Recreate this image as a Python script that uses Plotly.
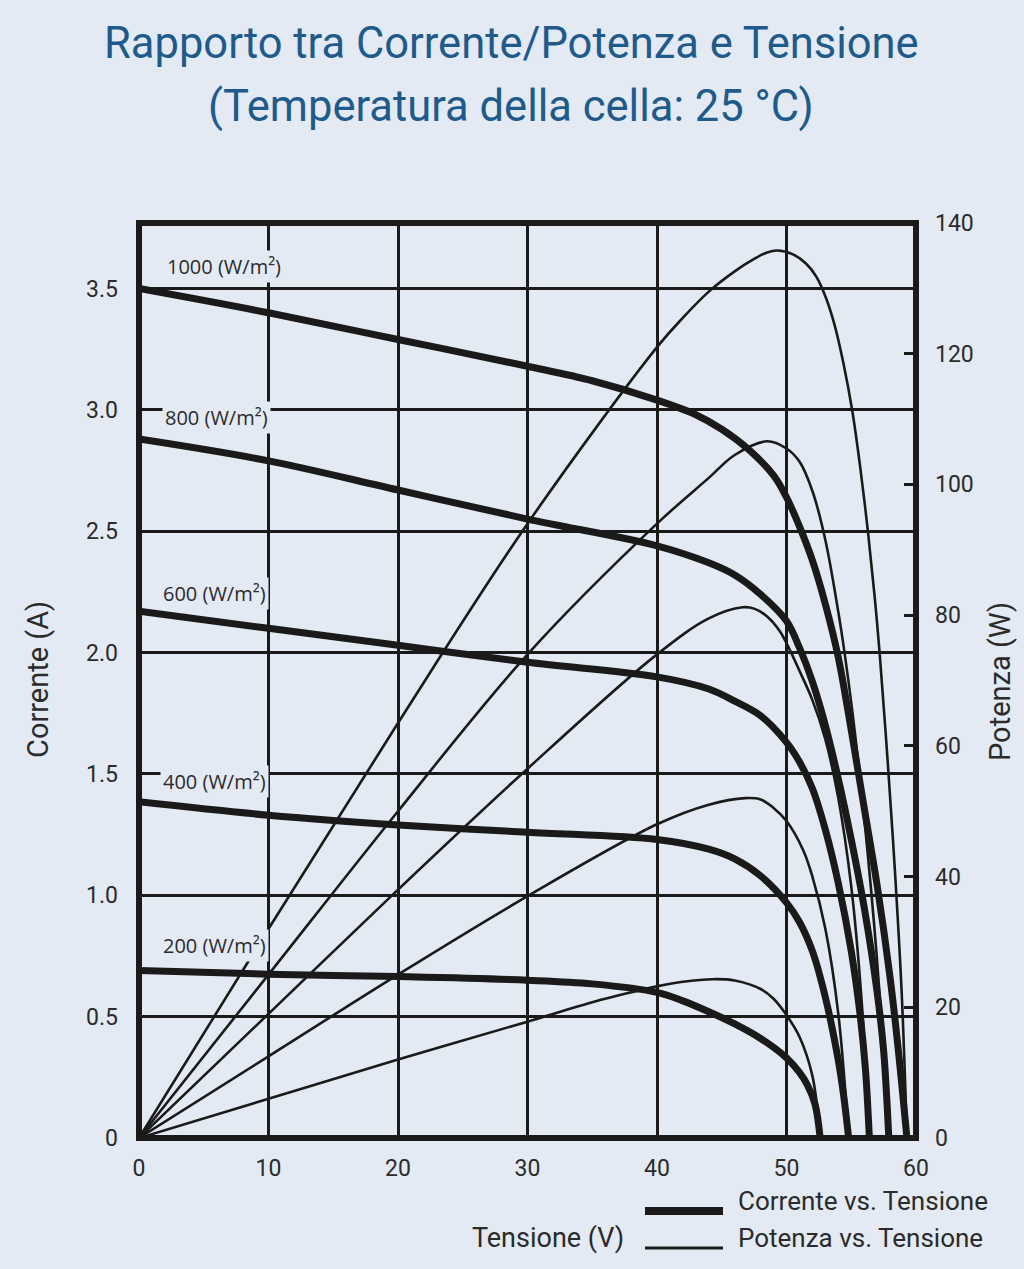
import plotly.graph_objects as go

# ---------------- data ----------------
irradiance_labels = ["1000 (W/m²)", "800 (W/m²)", "600 (W/m²)", "400 (W/m²)", "200 (W/m²)"]
label_current_pos = [3.59, 2.97, 2.245, 1.47, 0.795]
label_voltage_pos = [1.95, 1.8, 1.6, 1.6, 1.6]

# Current vs voltage
v_i_1000 = [0, 10, 20, 30, 35, 40, 43, 45, 47, 49, 50, 51, 52, 53, 54, 55, 56, 57, 58, 58.6, 59.3]
i_1000 = [3.50, 3.40, 3.29, 3.18, 3.12, 3.04, 2.98, 2.92, 2.84, 2.73, 2.64, 2.52, 2.38, 2.20, 1.98, 1.68, 1.36, 1.04, 0.66, 0.38, 0.0]

v_i_800 = [0, 10, 20, 30, 40, 44, 46, 48, 50, 51, 52, 53, 54, 55, 56, 57, 57.5, 57.9]
i_800 = [2.88, 2.79, 2.67, 2.55, 2.44, 2.37, 2.32, 2.24, 2.13, 2.02, 1.88, 1.70, 1.48, 1.23, 0.95, 0.60, 0.36, 0.0]

v_i_600 = [0, 10, 20, 30, 40, 44, 46, 48, 50, 51, 52, 53, 54, 55, 55.7, 56.1, 56.4]
i_600 = [2.17, 2.10, 2.03, 1.96, 1.90, 1.85, 1.80, 1.74, 1.63, 1.55, 1.44, 1.27, 1.05, 0.77, 0.50, 0.28, 0.0]

v_i_400 = [0, 10, 20, 30, 40, 44, 46, 48, 50, 51, 52, 53, 54, 54.4, 54.8]
i_400 = [1.385, 1.33, 1.29, 1.26, 1.23, 1.19, 1.15, 1.08, 0.97, 0.89, 0.77, 0.58, 0.32, 0.18, 0.0]

v_i_200 = [0, 10, 20, 30, 35, 40, 42, 44, 46, 48, 50, 51, 51.6, 52.2, 52.6]
i_200 = [0.69, 0.675, 0.665, 0.65, 0.635, 0.60, 0.565, 0.52, 0.47, 0.41, 0.33, 0.27, 0.22, 0.14, 0.0]

# Power vs voltage
v_p_1000 = [0, 10, 20, 30, 40, 42, 44, 46, 47.5, 48.5, 49.3, 50.5, 51.5, 52.3, 53, 53.7, 54.4, 55.1, 55.7, 56.3, 56.8, 57.2, 57.8, 58.4, 58.9, 59.3]
p_1000 = [0, 32, 63.5, 94, 121, 125.5, 129.5, 132.6, 134.5, 135.5, 135.8, 135.2, 133.8, 131.8, 128.8, 124.5, 118.5, 111, 102.5, 92.6, 83, 74, 58, 40, 22, 0]

v_p_800 = [0, 10, 20, 30, 40, 44, 46, 48.5, 50, 51, 52, 53, 54, 54.5, 55.1, 56, 57, 57.9]
p_800 = [0, 25, 50, 74, 94, 101, 104.5, 106.6, 105.5, 103.5, 99, 91.5, 80.5, 74, 65, 49, 27, 0]

v_p_600 = [0, 10, 20, 30, 40, 44, 46.6, 47.5, 48.5, 49.5, 50.3, 51, 52, 53, 54, 55, 55.8, 56.4]
p_600 = [0, 19, 38, 56.5, 74, 79.5, 81.2, 81, 79.8, 77.5, 74.5, 71.5, 67, 61, 52, 38.5, 21, 0]

v_p_400 = [0, 10, 20, 30, 40, 44, 46.8, 48, 49, 50, 51.3, 52, 53, 54, 54.8]
p_400 = [0, 12.5, 25, 37, 48, 51, 52, 51.8, 50.5, 48.5, 44, 40, 32, 19, 0]

v_p_200 = [0, 10, 20, 30, 35.6, 38, 40, 42, 44.3, 46, 48, 49, 50, 51, 52, 52.6]
p_200 = [0, 6, 12, 17.8, 21.1, 22.3, 23.2, 23.9, 24.3, 24.1, 22.8, 21.3, 18.8, 15.5, 9.5, 0]

x_ticks = [0, 10, 20, 30, 40, 50, 60]
y_left_ticks = [0, 0.5, 1.0, 1.5, 2.0, 2.5, 3.0, 3.5]
y_left_labels = ["0", "0.5", "1.0", "1.5", "2.0", "2.5", "3.0", "3.5"]
y_right_ticks = [0, 20, 40, 60, 80, 100, 120, 140]

title_line1 = "Rapporto tra Corrente/Potenza e Tensione"
title_line2 = "(Temperatura della cella: 25 °C)"

# ---------------- styling ----------------
BG = "#e3eaf3"
INK = "#1a1a1a"
FONT = "Roboto, sans-serif"
TXT = "#2b2b2b"
TITLE_C = "#1f5a8c"

W, H = 1024, 1269
L, R, T, B = 139, 108, 223, 131
pw, ph = W - L - R, H - T - B


def px(xp):
    return (xp - L) / pw


def py_(yp):
    return (H - B - yp) / ph


fig = go.Figure()

current_sets = [(v_i_1000, i_1000), (v_i_800, i_800), (v_i_600, i_600), (v_i_400, i_400), (v_i_200, i_200)]
power_sets = [(v_p_1000, p_1000), (v_p_800, p_800), (v_p_600, p_600), (v_p_400, p_400), (v_p_200, p_200)]

for (vx, pv) in power_sets:
    fig.add_trace(go.Scatter(x=vx, y=pv, mode="lines", yaxis="y2",
                             line=dict(color=INK, width=2.6, shape="spline", smoothing=1.0),
                             showlegend=False, hoverinfo="skip"))
for (vx, iy) in current_sets:
    fig.add_trace(go.Scatter(x=vx, y=iy, mode="lines", yaxis="y",
                             line=dict(color=INK, width=7, shape="spline", smoothing=1.0),
                             showlegend=False, hoverinfo="skip"))

# irradiance labels
for lab, yy, xx in zip(irradiance_labels, label_current_pos, label_voltage_pos):
    fig.add_annotation(x=xx, y=yy, xref="x", yref="y", text=lab, showarrow=False,
                       xanchor="left", yanchor="middle", bgcolor=BG, borderpad=2,
                       font=dict(family="Open Sans, sans-serif", size=20, color=TXT))

# title (two lines)
fig.add_annotation(x=px(511), y=py_(44), xref="paper", yref="paper", text=title_line1,
                   showarrow=False, xanchor="center", yanchor="middle",
                   font=dict(family=FONT, size=43.5, color=TITLE_C))
fig.add_annotation(x=px(511), y=py_(107), xref="paper", yref="paper", text=title_line2,
                   showarrow=False, xanchor="center", yanchor="middle",
                   font=dict(family=FONT, size=43.5, color=TITLE_C))

# axis titles
fig.add_annotation(x=px(38), y=py_(680), xref="paper", yref="paper", text="Corrente (A)",
                   textangle=-90, showarrow=False, xanchor="center", yanchor="middle",
                   font=dict(family=FONT, size=29, color=TXT))
fig.add_annotation(x=px(1000), y=py_(682), xref="paper", yref="paper", text="Potenza (W)",
                   textangle=-90, showarrow=False, xanchor="center", yanchor="middle",
                   font=dict(family=FONT, size=29, color=TXT))
fig.add_annotation(x=px(548), y=py_(1238), xref="paper", yref="paper", text="Tensione (V)",
                   showarrow=False, xanchor="center", yanchor="middle",
                   font=dict(family=FONT, size=27, color=TXT))

# legend
fig.add_shape(type="line", xref="paper", yref="paper", x0=px(645), x1=px(723), y0=py_(1211), y1=py_(1211),
              line=dict(color=INK, width=8))
fig.add_shape(type="line", xref="paper", yref="paper", x0=px(645), x1=px(723), y0=py_(1248), y1=py_(1248),
              line=dict(color=INK, width=3))
fig.add_annotation(x=px(736), y=py_(1201), xref="paper", yref="paper", text="Corrente vs. Tensione",
                   showarrow=False, xanchor="left", yanchor="middle",
                   font=dict(family=FONT, size=26, color=TXT))
fig.add_annotation(x=px(736), y=py_(1238), xref="paper", yref="paper", text="Potenza vs. Tensione",
                   showarrow=False, xanchor="left", yanchor="middle",
                   font=dict(family=FONT, size=26, color=TXT))

# frame
fig.add_shape(type="rect", xref="paper", yref="paper", x0=0, x1=1, y0=0, y1=1,
              line=dict(color=INK, width=6), layer="above")

fig.update_layout(
    width=W, height=H,
    paper_bgcolor=BG, plot_bgcolor=BG,
    margin=dict(l=L, r=R, t=T, b=B),
    xaxis=dict(range=[0, 60], tickvals=x_ticks, showgrid=True, gridcolor=INK, gridwidth=2.5,
               zeroline=False, showline=False, ticks="", ticklabelstandoff=14,
               tickfont=dict(family=FONT, size=23, color=TXT)),
    yaxis=dict(range=[0, 3.77], tickvals=y_left_ticks, ticktext=y_left_labels, showgrid=True,
               gridcolor=INK, gridwidth=2.5, zeroline=False, showline=False, ticks="",
               ticklabelstandoff=20, tickfont=dict(family=FONT, size=23, color=TXT)),
    yaxis2=dict(range=[0, 140], tickvals=y_right_ticks, overlaying="y", side="right",
                showgrid=False, zeroline=False, showline=False, ticks="inside", ticklen=12,
                tickwidth=3, tickcolor=INK, ticklabelstandoff=18,
                tickfont=dict(family=FONT, size=23, color=TXT)),
)

fig.write_html("out.html", config={"displayModeBar": False},
               post_script="document.body.style.margin='0';document.body.style.background='" + BG + "';")
